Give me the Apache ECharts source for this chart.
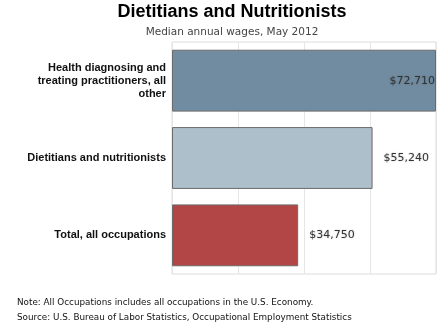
<!DOCTYPE html>
<html><head><meta charset="utf-8">
<script src="https://cdn.jsdelivr.net/npm/echarts@6/dist/echarts.min.js"></script>
<style>html,body{margin:0;padding:0;background:#fff}#c{width:447px;height:327px}</style>
</head><body><div id="c"></div>
<script>
const categories = ["Health diagnosing and\ntreating practitioners, all\nother", "Dietitians and nutritionists", "Total, all occupations"];
const wages = [72710, 55240, 34750];
const barColors = ["#718ca1", "#adbfcb", "#b24545"];
const titleText = "Dietitians and Nutritionists";
const subtitleText = "Median annual wages, May 2012";
const noteText = "Note: All Occupations includes all occupations in the U.S. Economy.";
const sourceText = "Source: U.S. Bureau of Labor Statistics, Occupational Employment Statistics";

const fmt = v => "$" + v.toLocaleString("en-US");
const chart = echarts.init(document.getElementById("c"), null, {renderer: "canvas"});
chart.setOption({
  animation: false,
  title: [
    {text: titleText, left: 232, textAlign: "center", top: 3, padding: 0,
     textStyle: {fontFamily: "Liberation Sans", fontWeight: "bold", fontSize: 18, color: "#000"}},
    {text: subtitleText, left: 232, textAlign: "center", top: 27, padding: 0,
     textStyle: {fontFamily: "DejaVu Sans", fontWeight: "normal", fontSize: 10.5, color: "#444"}},
    {text: noteText, left: 17, top: 298, padding: 0,
     textStyle: {fontFamily: "DejaVu Sans", fontWeight: "normal", fontSize: 8.8, color: "#111"}},
    {text: sourceText, left: 17, top: 313, padding: 0,
     textStyle: {fontFamily: "DejaVu Sans", fontWeight: "normal", fontSize: 8.8, color: "#111"}}
  ],
  grid: {left: 172, right: 11, top: 42, bottom: 53, show: true, borderColor: "#dcdcdc", borderWidth: 1, containLabel: false},
  xAxis: {type: "value", min: 0, max: wages[0], interval: wages[0] / 4,
    axisLabel: {show: false}, axisLine: {show: false}, axisTick: {show: false},
    splitLine: {show: true, lineStyle: {color: "#e6e6e6", width: 1}}},
  yAxis: {type: "category", data: categories, inverse: true,
    axisLine: {show: false}, axisTick: {show: false},
    axisLabel: {margin: 6, align: "right", fontFamily: "Liberation Sans", fontWeight: "bold", fontSize: 11, color: "#111", lineHeight: 13}},
  series: [{
    type: "bar", barWidth: "80%",
    data: wages.map((v, i) => ({value: v, itemStyle: {color: barColors[i]},
      label: {position: i === 0 ? "insideRight" : "right", distance: i === 0 ? 1 : 11}})),
    itemStyle: {borderColor: "#6b6b6b", borderWidth: 1},
    label: {show: true, formatter: p => fmt(p.value), fontFamily: "DejaVu Sans", fontSize: 11, color: "#333",
      textShadowColor: "rgba(0,0,0,0.25)", textShadowBlur: 2}
  }]
});
</script></body></html>
